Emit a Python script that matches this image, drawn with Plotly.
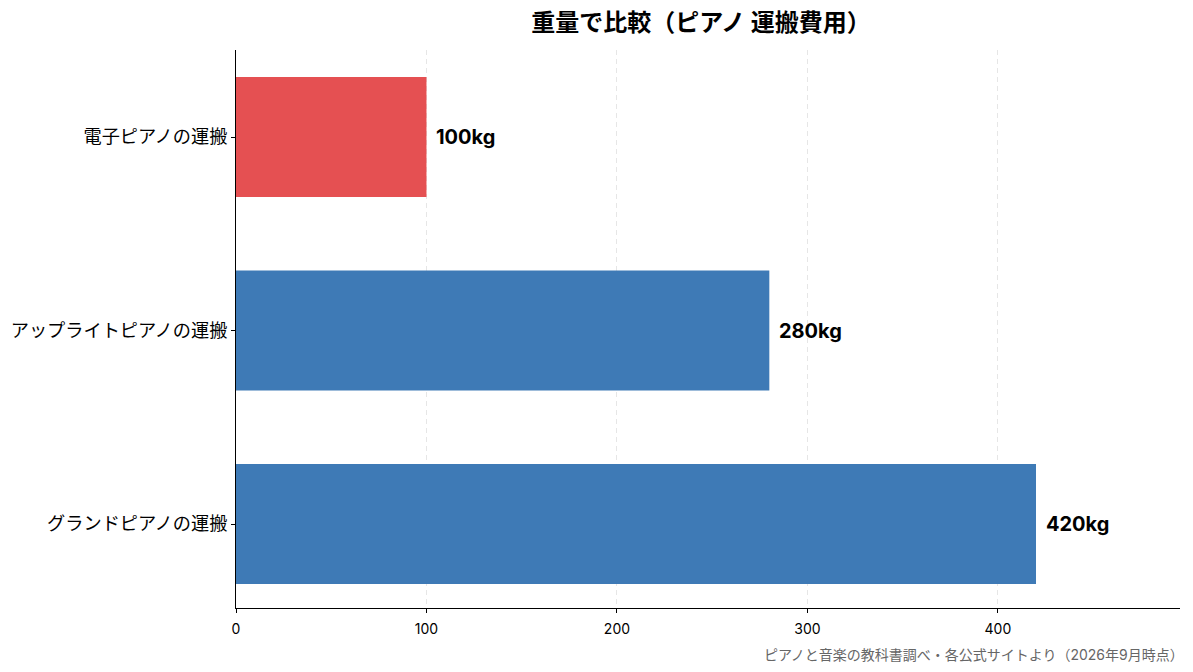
import plotly.graph_objects as go

# data
categories = ['グランドピアノの運搬', 'アップライトピアノの運搬', '電子ピアノの運搬']
weights = [420, 280, 100]
bar_colors = ['#3E7AB6', '#3E7AB6', '#E55052']
value_labels = ['420kg', '280kg', '100kg']
x_ticks = [0, 100, 200, 300, 400]

font_family = 'Inter, Noto Sans CJK JP, sans-serif'

# page body has an 8px margin, so the figure is drawn 8px smaller
W, H = 1185, 664
L, R, T, B = 228, 13, 42, 64

fig = go.Figure()

fig.add_trace(
    go.Bar(
        x=weights,
        y=categories,
        orientation='h',
        width=0.62,
        marker=dict(color=bar_colors, line=dict(width=0)),
        hovertemplate='%{y}: %{x}kg<extra></extra>',
    )
)

# value labels to the right of each bar
for cat, w, lab in zip(categories, weights, value_labels):
    fig.add_annotation(
        x=w, y=cat,
        text='<b>' + lab + '</b>',
        showarrow=False,
        xanchor='left', yanchor='middle',
        xshift=8,
        font=dict(size=20, color='black'),
    )

fig.update_layout(
    width=W,
    height=H,
    plot_bgcolor='white',
    paper_bgcolor='white',
    font=dict(family=font_family, color='black'),
    margin=dict(l=L, r=R, t=T, b=B, autoexpand=False),
    showlegend=False,
    title=dict(
        text='<b>重量で比較（ピアノ 運搬費用）</b>',
        x=693 / W,
        xanchor='center',
        y=1 - 15 / H,
        yanchor='middle',
        font=dict(size=24, color='black'),
    ),
)

fig.update_xaxes(
    range=[0, 495.6],
    tickvals=x_ticks,
    tickfont=dict(size=14),
    ticklabelstandoff=4,
    showgrid=True,
    gridcolor='#e6e6e6',
    griddash='5px,4px',
    gridwidth=1,
    showline=True,
    linecolor='black',
    linewidth=1,
    ticks='outside',
    ticklen=4,
    tickcolor='black',
    zeroline=False,
)

fig.update_yaxes(
    range=[-0.434, 2.45],
    tickfont=dict(size=18.2),
    showgrid=False,
    showline=True,
    linecolor='black',
    linewidth=1,
    ticks='outside',
    ticklen=4,
    tickcolor='black',
    zeroline=False,
)

fig.add_annotation(
    text='ピアノと音楽の教科書調べ・各公式サイトより（2026年9月時点）',
    xref='paper', yref='paper',
    x=1.006, y=-0.0842,
    xanchor='right', yanchor='middle',
    showarrow=False,
    font=dict(size=14, color='#666666'),
)

fig.write_html('out.html')
